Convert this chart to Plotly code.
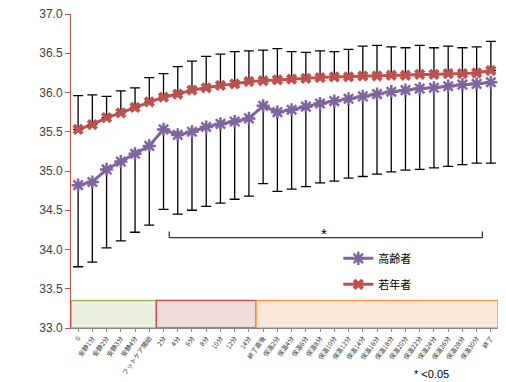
import plotly.graph_objects as go

categories = ["0", "安静1分", "安静2分", "安静3分", "安静4分", "フットケア開始",
              "2分", "4分", "6分", "8分", "10分", "12分", "14分",
              "終了直後", "保温2分", "保温4分", "保温6分", "保温8分", "保温10分",
              "保温12分", "保温14分", "保温16分", "保温18分", "保温20分", "保温22分",
              "保温24分", "保温26分", "保温28分", "保温30分", "終了"]

elderly = [34.82, 34.86, 35.02, 35.12, 35.22, 35.32, 35.53, 35.46, 35.50, 35.56,
           35.60, 35.63, 35.67, 35.83, 35.75, 35.78, 35.82, 35.86, 35.89, 35.92,
           35.95, 35.98, 36.01, 36.03, 36.05, 36.06, 36.08, 36.10, 36.11, 36.13]
elderly_low = [33.78, 33.84, 34.02, 34.11, 34.22, 34.31, 34.51, 34.45, 34.50, 34.55,
               34.59, 34.64, 34.68, 34.84, 34.74, 34.77, 34.80, 34.85, 34.87, 34.91,
               34.93, 34.96, 34.99, 35.01, 35.02, 35.04, 35.06, 35.08, 35.10, 35.10]

young = [35.53, 35.59, 35.68, 35.74, 35.81, 35.88, 35.94, 35.98, 36.03, 36.06,
         36.09, 36.11, 36.14, 36.15, 36.16, 36.17, 36.18, 36.19, 36.20, 36.20,
         36.21, 36.21, 36.22, 36.22, 36.23, 36.23, 36.24, 36.24, 36.25, 36.28]
young_high = [35.96, 35.97, 35.95, 36.02, 36.06, 36.19, 36.24, 36.33, 36.40, 36.46,
              36.49, 36.52, 36.53, 36.54, 36.56, 36.52, 36.51, 36.53, 36.52, 36.55,
              36.59, 36.60, 36.58, 36.57, 36.60, 36.57, 36.59, 36.57, 36.58, 36.65]

elderly_minus = [round(v - l, 3) for v, l in zip(elderly, elderly_low)]
young_plus = [round(h - v, 3) for v, h in zip(young, young_high)]

PURPLE = "#8064A2"
RED = "#C0504D"

fig = go.Figure()

fig.add_trace(go.Scatter(
    x=categories, y=young, name="若年者", mode="lines+markers",
    line=dict(color=RED, width=3),
    marker=dict(symbol="x", size=10, color=RED),
    error_y=dict(type="data", array=young_plus, arrayminus=[0] * len(young),
                 symmetric=False, color="#000000", thickness=1.3, width=5),
    legendrank=2, legendgroup="b",
))
fig.add_trace(go.Scatter(
    x=categories, y=elderly, name="高齢者", mode="lines+markers",
    line=dict(color=PURPLE, width=3),
    marker=dict(symbol="asterisk-open", size=11, color=PURPLE,
                line=dict(color=PURPLE, width=2.5)),
    error_y=dict(type="data", array=[0] * len(elderly), arrayminus=elderly_minus,
                 symmetric=False, color="#000000", thickness=1.3, width=5),
    legendrank=1, legendgroup="a",
))

shapes = []
for x0, x1, fill, border in [(-0.5, 5.5, "#EBF1DE", "#9BBB59"),
                              (5.5, 12.5, "#F2DCDB", "#C0504D"),
                              (12.5, 29.5, "#FDE9D9", "#F79646")]:
    shapes.append(dict(type="rect", xref="x", yref="y", x0=x0, x1=x1, y0=33.0, y1=33.35,
                       fillcolor=fill, line=dict(color=border, width=1.5), layer="below"))

# significance bracket
bx0, bx1, by, byt = 6.4, 28.4, 34.15, 34.23
shapes.append(dict(type="line", xref="x", yref="y", x0=bx0, x1=bx1, y0=by, y1=by,
                   line=dict(color="#000000", width=1)))
shapes.append(dict(type="line", xref="x", yref="y", x0=bx0, x1=bx0, y0=by, y1=byt,
                   line=dict(color="#000000", width=1)))
shapes.append(dict(type="line", xref="x", yref="y", x0=bx1, x1=bx1, y0=by, y1=byt,
                   line=dict(color="#000000", width=1)))

fig.update_layout(
    width=490, height=374, autosize=False,
    margin=dict(l=63, r=0, t=6, b=54),
    paper_bgcolor="white", plot_bgcolor="white",
    shapes=shapes,
    showlegend=True,
    legend=dict(x=0.626, y=0.268, xanchor="left", yanchor="top",
                font=dict(size=11, color="#000000", family="Noto Sans CJK JP"),
                bgcolor="rgba(0,0,0,0)", tracegroupgap=7, traceorder="grouped"),
    annotations=[
        dict(text="*", xref="x", yref="y", x=17.3, y=34.21, showarrow=False,
             font=dict(size=15, color="#000000", family="Liberation Sans")),
        dict(text="* <0.05", xref="paper", yref="paper", x=0.89, y=-0.172,
             showarrow=False, font=dict(size=11, color="#000000", family="Liberation Sans")),
    ],
    font=dict(family="Noto Sans CJK JP"),
)

fig.update_xaxes(
    type="category", range=[-0.5, 29.5], automargin=False,
    tickangle=-55, tickfont=dict(size=6.5, color="#333333"),
    ticks="outside", ticklen=3, tickcolor="#888888", ticklabeloverflow="allow",
    showline=True, linecolor="#888888", linewidth=1,
    showgrid=False, zeroline=False,
)
fig.update_yaxes(
    range=[33.0, 37.0], tickvals=[33.0, 33.5, 34.0, 34.5, 35.0, 35.5, 36.0, 36.5, 37.0],
    tickformat=".1f", tickfont=dict(size=12, color="#404040", family="Liberation Sans"),
    ticks="outside", ticklen=5, tickcolor=RED, automargin=False, ticklabeloverflow="allow",
    showline=True, linecolor=RED, linewidth=1,
    showgrid=False, zeroline=False,
)

fig.write_html("out.html", config={"responsive": False})
